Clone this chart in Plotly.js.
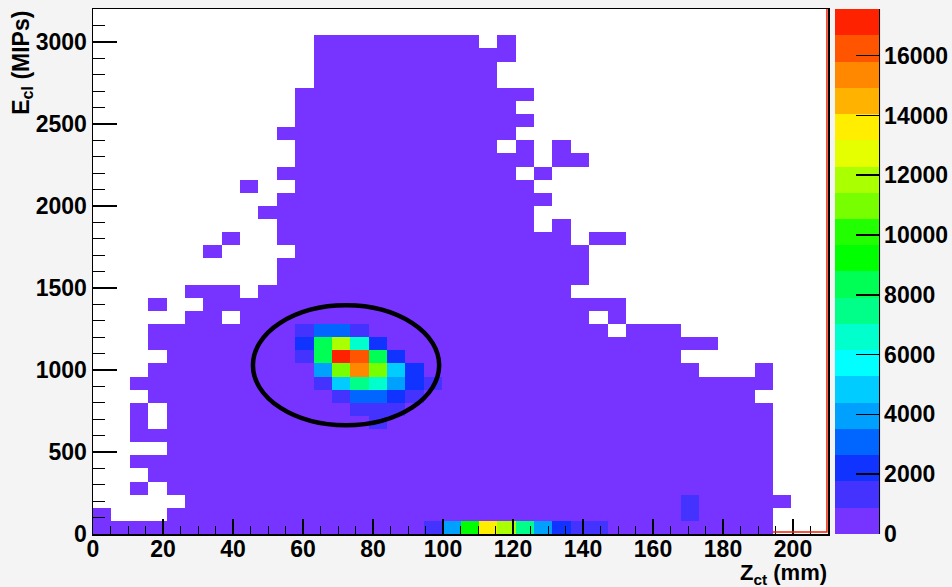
<!DOCTYPE html>
<html>
<head>
<meta charset="utf-8">
<script src="https://cdn.plot.ly/plotly-3.0.1.min.js"></script>
<style>
html,body{margin:0;padding:0;background:#f4f4f4;}
#chart{width:952px;height:587px;}
</style>
</head>
<body>
<div id="chart"></div>
<script>
// ---- binning of the 2D histogram (40 x 40 bins) ----
const xBinStart = 0, xBinWidth = 5.25;   // Z_ct (mm): 0 .. 210
const yBinStart = 0, yBinWidth = 80;     // E_cl (MIPs): 0 .. 3200

// ---- bin contents ----
// each character is one bin; '.' = empty, otherwise a colour-level code
const levelCodes  = '123456789abcdefghijk';
const levelValues = [300, 1300, 2200, 3100, 3950, 4800, 5700, 6600, 7500, 8350,
                     9200, 10100, 11000, 11850, 12700, 13600, 14500, 15350, 16200, 17100];
// rows listed from the top (E_cl 3120-3200) down to the bottom (E_cl 0-80)
const rowsTopDown = [
  ".........." + ".........." + ".........." + "..........",
  ".........." + ".........." + ".........." + "..........",
  ".........." + "..11111111" + "1.1......." + "..........",
  ".........." + "..11111111" + "111......." + "..........",
  ".........." + "..11111111" + "11........" + "..........",
  ".........." + "..11111111" + "11........" + "..........",
  ".........." + ".111111111" + "1111......" + "..........",
  ".........." + ".111111111" + "111......." + "..........",
  ".........." + ".111111111" + "1111......" + "..........",
  ".........." + "1111111111" + "111......." + "..........",
  ".........." + ".111111111" + "11.1.1...." + "..........",
  ".........." + ".111111111" + "1111.11..." + "..........",
  ".........." + "1111111111" + "111.1....." + "..........",
  "........1." + ".111111111" + "1111......" + "..........",
  ".........." + "1111111111" + "11111....." + "..........",
  ".........1" + "1111111111" + "1111......" + "..........",
  ".........." + "1111111111" + "1111.1...." + "..........",
  ".......1.." + "1111111111" + "111111.11." + "..........",
  "......1..." + ".111111111" + "1111111..." + "..........",
  ".........." + "1111111111" + "1111111..." + "..........",
  ".........." + "1111111111" + "1111111..." + "..........",
  ".....111.1" + "1111111111" + "111111...." + "..........",
  "...1..1111" + "1111111111" + "111111111." + "..........",
  ".....11.11" + "1111111111" + "1111111.1." + "..........",
  "...1111111" + "1244211111" + "11111111.1" + "11........",
  "...1111111" + "13ae831111" + "1111111111" + "1111......",
  "....111111" + "12akja3111" + "1111111111" + "11........",
  "...1111111" + "115did6311" + "1111111111" + "111...1...",
  "..11111111" + "1126985321" + "1111111111" + "1111111...",
  "...1111111" + "1112443211" + "1111111111" + "111111....",
  "..1.111111" + "1111222111" + "1111111111" + "1111111...",
  "..1.111111" + "1111121111" + "1111111111" + "1111111...",
  "..11111111" + "1111111111" + "1111111111" + "1111111...",
  "....111111" + "1111111111" + "1111111111" + "1111111...",
  "..11111111" + "1111111111" + "1111111111" + "1111111...",
  "...1111111" + "1111111111" + "1111111111" + "1111111...",
  "..1.111111" + "1111111111" + "1111111111" + "1111111...",
  ".....11111" + "1111111111" + "1111111111" + "11211111..",
  "1...111111" + "1111111111" + "1111111111" + "1121111...",
  "1111111111" + "1111111125" + "bge9532211" + "1111111..."
];

const zMax = 17560;
const bandColors = ['#7733ff','#4433ff','#1133ff','#0066ff','#00a0ff','#00ccff','#00ffff',
                    '#00ffcc','#00ff88','#00ff55','#00ff00','#22ff00','#77ff00','#aaff00',
                    '#e6ff00','#ffee00','#ffb300','#ff8800','#ff5500','#ff2200'];
const xTickVals  = [0, 20, 40, 60, 80, 100, 120, 140, 160, 180, 200];
const yTickVals  = [0, 500, 1000, 1500, 2000, 2500, 3000];
const cbTickVals = [0, 2000, 4000, 6000, 8000, 10000, 12000, 14000, 16000];
const cbTickText = ['0', '2000', '4000', '6000', '8000', '10000', '12000', '14000', '16000'];

// ---- build the z matrix (row 0 = lowest E_cl) ----
const z = rowsTopDown.slice().reverse().map(row =>
  row.split('').map(ch => ch === '.' ? null : levelValues[levelCodes.indexOf(ch)]));

const colorscale = [];
bandColors.forEach((c, k) => {
  colorscale.push([k / bandColors.length, c]);
  colorscale.push([(k + 1) / bandColors.length, c]);
});

const FONT = 'Liberation Sans, Arial, Helvetica, sans-serif';
const tickFont = {family: FONT, size: 23, color: '#000', weight: 'bold'};

const trace = {
  type: 'heatmap',
  z: z,
  x0: xBinStart + xBinWidth / 2, dx: xBinWidth,
  y0: yBinStart + yBinWidth / 2, dy: yBinWidth,
  zmin: 0, zmax: zMax,
  zsmooth: false,
  colorscale: colorscale,
  hoverongaps: false,
  colorbar: {
    x: 1.0099, xanchor: 'left', xpad: 0,
    y: 0, yanchor: 'bottom', ypad: 0,
    len: 1, lenmode: 'fraction',
    thickness: 44, thicknessmode: 'pixels',
    outlinewidth: 0,
    tickvals: cbTickVals, ticktext: cbTickText,
    ticks: 'inside', ticklen: 23, tickwidth: 1.5, tickcolor: '#000',
    tickfont: tickFont
  }
};

const layout = {
  width: 952, height: 587,
  margin: {l: 93, r: 124, t: 9, b: 53, pad: 0, autoexpand: false},
  paper_bgcolor: '#f4f4f4',
  plot_bgcolor: '#ffffff',
  showlegend: false,
  xaxis: {
    range: [0, 210], autorange: false,
    tickvals: xTickVals,
    ticks: 'inside', ticklen: 15, tickwidth: 1.5, tickcolor: '#000',
    ticklabelstandoff: -6,
    minor: {ticks: 'inside', ticklen: 8, tickwidth: 1, tickcolor: '#000', dtick: 5, tick0: 0, showgrid: false},
    showline: true, linecolor: '#000', linewidth: 1.5, mirror: true,
    showgrid: false, zeroline: false,
    tickfont: tickFont
  },
  yaxis: {
    range: [0, 3200], autorange: false,
    tickvals: yTickVals,
    ticks: 'inside', ticklen: 24, tickwidth: 1.5, tickcolor: '#000',
    minor: {ticks: 'inside', ticklen: 12, tickwidth: 1, tickcolor: '#000', dtick: 100, tick0: 0, showgrid: false},
    showline: true, linecolor: '#000', linewidth: 1.5, mirror: true,
    showgrid: false, zeroline: false,
    tickfont: tickFont
  },
  shapes: [
    {type: 'circle', xref: 'x', yref: 'y', x0: 45.7, x1: 98.9, y0: 663, y1: 1394,
     line: {color: '#000', width: 4.5}},
    {type: 'path', xref: 'x', yref: 'y', path: 'M 194.25 12 L 209.7 12 L 209.7 3200',
     line: {color: '#ee2200', width: 1.5}},
    {type: 'line', xref: 'paper', yref: 'paper', x0: 1.0698, x1: 1.0698, y0: 0, y1: 1,
     line: {color: '#000', width: 1.5}}
  ],
  annotations: [
    {text: 'E<sub>cl</sub> (MIPs)', xref: 'paper', yref: 'paper',
     x: -0.097, y: 0.897, xanchor: 'center', yanchor: 'middle', textangle: -90,
     showarrow: false, font: {family: FONT, size: 23, color: '#000', weight: 'bold'}},
    {text: 'Z<sub>ct</sub> (mm)', xref: 'paper', yref: 'paper',
     x: 1.0, y: -0.105, xanchor: 'right', yanchor: 'bottom', borderpad: 0,
     showarrow: false, font: {family: FONT, size: 22, color: '#000', weight: 'bold'}}
  ]
};

Plotly.newPlot('chart', [trace], layout, {displayModeBar: false, staticPlot: true});
</script>
</body>
</html>
